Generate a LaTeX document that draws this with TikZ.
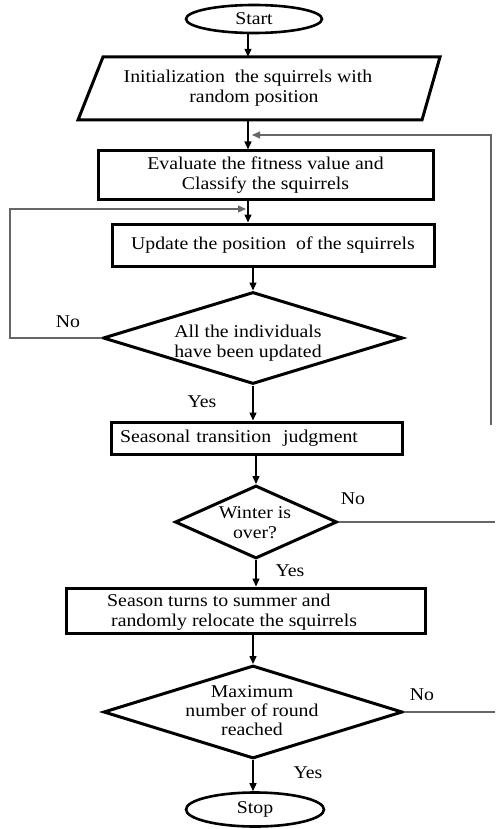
\documentclass[tikz,border=0pt]{standalone}
\usepackage{fontspec}
\setmainfont{Liberation Serif}[FakeStretch=1.1]
\usetikzlibrary{shapes.geometric,arrows.meta}
\begin{document}
\begin{tikzpicture}[x=1pt,y=1pt,
  every node/.style={font=\fontsize{18}{20}\selectfont},
  box/.style={draw, line width=3pt, rectangle, inner sep=0pt},
  dec/.style={draw, diamond, line width=3pt, inner sep=0pt},
  term/.style={draw, ellipse, line width=2.6pt, inner sep=0pt},
  txt/.style={inner sep=0pt, align=center},
  flow/.style={line width=1.4pt, -{Triangle[length=8pt,width=7pt]}},
  back/.style={line width=1.2pt, draw=black!60},
  backarrow/.style={back, -{Triangle[length=8pt,width=7pt]}},
  lbl/.style={inner sep=0pt}
]
\useasboundingbox (0,0) rectangle (495,-829);

% terminals
\node[term, minimum width=136pt, minimum height=28pt] (start) at (254,-19) {Start};
\node[term, minimum width=138pt, minimum height=34pt] (stop) at (255,-809.5) {Stop};

% initialization (parallelogram)
\draw[line width=3pt, line join=miter] (103,-57) -- (440,-57) -- (422,-120) -- (78,-120) -- cycle;
\node[txt, minimum width=300pt, minimum height=63pt] (init) at (248,-88.5) {Initialization\ \ the squirrels with\\ \hspace{12pt}random position};

% process boxes
\node[box, minimum width=335pt, minimum height=48pt, align=center] (eval) at (265.5,-175) {Evaluate the fitness value and\\Classify the squirrels};
\node[box, minimum width=322pt, minimum height=42pt] (update) at (273,-245) {Update the position\ \ of the squirrels};
\node[box, text width=273pt, inner xsep=9pt, inner ysep=0pt, minimum height=32pt, align=left] (seas) at (256.5,-438) {Seasonal transition\ \ judgment};
\node[box, minimum width=359pt, minimum height=45pt] (summ) at (245.5,-610.5) {};
\node[txt, align=left, anchor=west] (summT) at (107,-612) {Season turns to summer and\\ \hspace{4pt}randomly relocate the squirrels};

% decisions
\node[dec, minimum width=300pt, minimum height=92pt] (d1) at (253,-338) {};
\node[txt] (d1t) at (248,-343) {All the individuals\\have been updated};
\node[dec, minimum width=162pt, minimum height=73pt] (d2) at (256,-522) {};
\node[txt] (d2t) at (255,-523) {Winter is\\over?};
\node[dec, minimum width=299pt, minimum height=93pt] (d3) at (253,-712) {};
\node[txt, font=\fontsize{18}{19}\selectfont] (d3t) at (252,-711) {Maximum\\number of round\\reached};

% labels
\node[lbl] (no1) at (68,-322) {No};
\node[lbl] (yes1) at (202,-402) {Yes};
\node[lbl] (no2) at (353,-499) {No};
\node[lbl] (yes2) at (290,-571) {Yes};
\node[lbl] (no3) at (422,-695) {No};
\node[lbl] (yes3) at (308,-773) {Yes};

% helper coordinates
\coordinate (fbB) at (491,-425);
\coordinate (fbT) at (491,-135);
\coordinate (fbE) at (252,-135);
\coordinate (lpT) at (10,-209);
\coordinate (lpE) at (246,-209);
\coordinate (r2) at (495,-522);
\coordinate (r3) at (495,-712);

% main flow
\draw[flow] (start.south -| init.north) -- (init.north);
\draw[flow] (init.south) -- (init.south |- eval.north);
\draw[flow] (init.south |- eval.south) -- (init.south |- update.north);
\draw[flow] (d1.north |- update.south) -- (d1.north);
\draw[flow] (d1.south) -- (d1.south |- seas.north);
\draw[flow] (d2.north |- seas.south) -- (d2.north);
\draw[flow] (d2.south) -- (d2.south |- summ.north);
\draw[flow] (d3.north |- summ.south) -- (d3.north);
\draw[flow] (d3.south) -- (d3.south |- stop.north);

% feedback lines
\draw[backarrow] (fbB) -- (fbT) -- (fbE);
\draw[backarrow] (d1.west) -- (d1.west -| lpT) -- (lpT) -- (lpE);
\draw[back] (d2.east) -- (r2);
\draw[back] (d3.east) -- (r3);
\end{tikzpicture}
\end{document}
